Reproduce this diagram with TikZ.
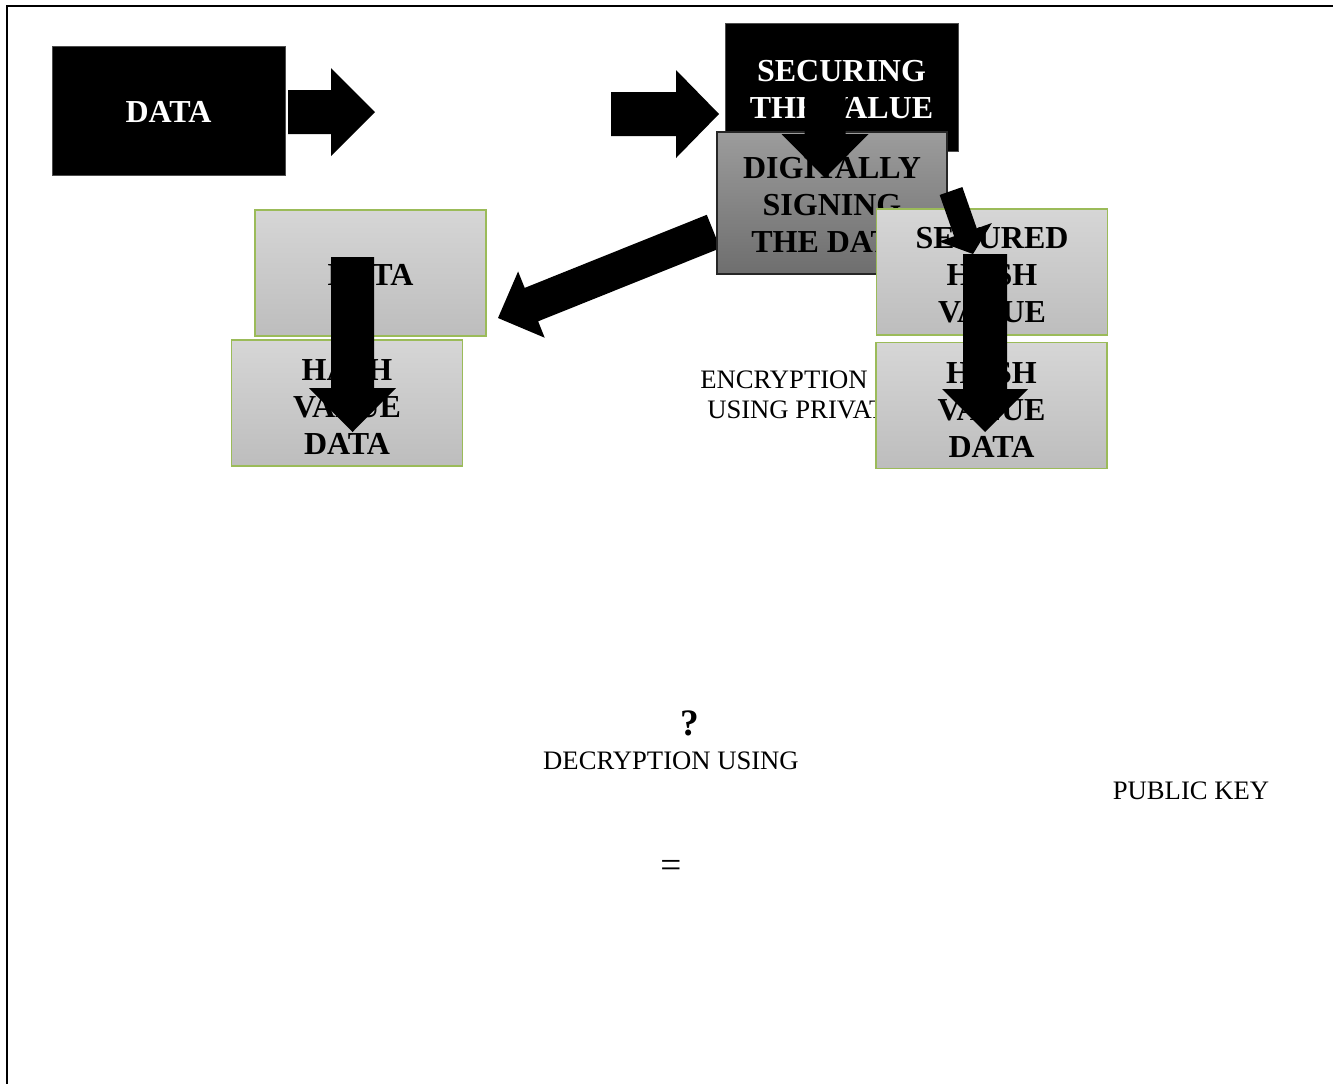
\documentclass[tikz,border=0pt]{standalone}
\usepackage{fontspec}
\setmainfont{Liberation Serif}
\usetikzlibrary{calc}
\definecolor{grnb}{HTML}{9BBB59}
\definecolor{signtop}{HTML}{9C9C9C}
\definecolor{signbot}{HTML}{6E6E6E}
\definecolor{lighttop}{HTML}{D6D6D6}
\definecolor{lightbot}{HTML}{BDBDBD}
% block arrow: tail, tip, shaft half width, head half width, head length (px)
\newcommand{\myblockarrow}[5]{%
  \coordinate (tmpbase) at ($(#2)!{#5*0.75pt}!(#1)$);
  \fill[black] ($(#1)!{#3*0.75pt}!90:(#2)$) -- ($(tmpbase)!{#3*0.75pt}!90:(#2)$)
    -- ($(tmpbase)!{#4*0.75pt}!90:(#2)$) -- (#2)
    -- ($(tmpbase)!{#4*0.75pt}!-90:(#2)$) -- ($(tmpbase)!{#3*0.75pt}!-90:(#2)$)
    -- ($(#1)!{#3*0.75pt}!-90:(#2)$) -- cycle;}
\begin{document}
\begin{tikzpicture}[x=0.75pt,y=-0.75pt,
  bt/.style={font=\fontsize{24}{27.75}\selectfont\bfseries, align=center, inner sep=0pt},
  blackbox/.style={fill=black, draw=black!70, line width=0.6pt, minimum width=174.75pt, minimum height=96.5pt, inner sep=0pt},
  signbox/.style={draw=black!85, line width=0.8pt, top color=signtop, bottom color=signbot, minimum width=172.5pt, minimum height=106.5pt, inner sep=0pt},
  lightbox/.style={draw=grnb, line width=1.1pt, top color=lighttop, bottom color=lightbot, minimum width=173pt, minimum height=94.5pt, inner sep=0pt},
  lbl/.style={font=\fontsize{20}{24}\selectfont, inner sep=0pt}]
\useasboundingbox (0,0) rectangle (1333,1083);
\fill[white] (0,0) rectangle (1333,1083);
% frame
\draw[line width=1.9pt] (7,1095) -- (7,6) -- (1345,6);

\node[blackbox] (data) at (168.5,111) {};
\node[bt, text=white] (data-t) at ($(data)+(0,1)$) {DATA};
\coordinate (a1t) at (288,112);
\coordinate (a1h) at (375,112);
\myblockarrow{a1t}{a1h}{22}{44}{44}
\coordinate (a2t) at (611,114);
\coordinate (a2h) at (719,114);
\myblockarrow{a2t}{a2h}{22}{44}{43}
\node[blackbox] (secure) at (841.5,87.5) {};
\node[bt, text=white] (secure-t) at ($(secure)+(0,2)$) {SECURING\\THE VALUE};

\coordinate (a3t) at (713.5,231.5);
\coordinate (a3h) at (498,318);
\myblockarrow{a3t}{a3h}{18}{35.7}{36}
\node[signbox] (sign) at (832,203) {};
\node[bt] (sign-t) at ($(sign)+(0,2)$) {DIGITALLY\\SIGNING\\THE DATA};
\coordinate (a4t) at (825,93);
\coordinate (a4h) at (825,178);
\myblockarrow{a4t}{a4h}{20.5}{43.5}{44}

\node[lightbox] (dataB) at (370.5,273) {};
\node[bt] (dataB-t) at ($(dataB)+(0,2)$) {DATA};
\node[lightbox] (hashL) at (347,403) {};
\node[bt] (hashL-t) at ($(hashL)+(0,4)$) {HASH\\VALUE\\DATA};
\coordinate (a5t) at (352.5,257);
\coordinate (a5h) at (352.5,432);
\myblockarrow{a5t}{a5h}{21.5}{43.5}{44}

\node[lbl, anchor=west] (enc1) at (700,380) {ENCRYPTION};
\node[lbl, anchor=west] (enc2) at (707,410) {USING PRIVATE KEY};

\node[lightbox] (secH) at (992,272) {};
\node[bt] (secH-t) at ($(secH)+(0,3.5)$) {SECURED\\HASH\\VALUE};
\coordinate (a6t) at (951,191);
\coordinate (a6h) at (973,254);
\myblockarrow{a6t}{a6h}{12}{28}{23}
\node[lightbox] (hashR) at (991.5,405.5) {};
\node[bt] (hashR-t) at ($(hashR)+(0,4)$) {HASH\\VALUE\\DATA};
\coordinate (a7t) at (985,254);
\coordinate (a7h) at (985,432);
\myblockarrow{a7t}{a7h}{22}{43}{43}

\node[font=\fontsize{28}{32}\selectfont\bfseries, inner sep=0pt] (q) at (690,723) {?};
\node[lbl] (dec) at (671,760.5) {DECRYPTION USING};
\node[lbl] (pub) at (1191,790.5) {PUBLIC KEY};
\node[font=\fontsize{28}{32}\selectfont, inner sep=0pt] (eq) at (671,869) {=};
\end{tikzpicture}
\end{document}
